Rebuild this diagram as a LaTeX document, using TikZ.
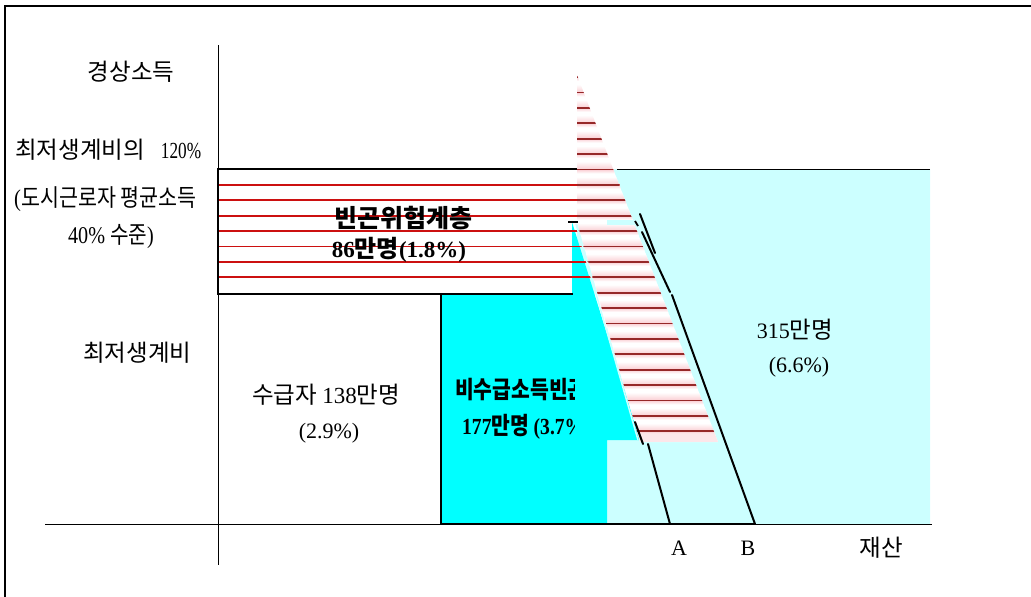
\documentclass[tikz,border=0pt]{standalone}
\usepackage{fontspec}
\setmainfont{Liberation Serif}
\newfontfamily\kr{Noto Sans CJK KR}
\definecolor{lcyan}{HTML}{CCFFFF}
\definecolor{bcyan}{HTML}{00FFFF}
\definecolor{stripe}{RGB}{150,40,40}
\definecolor{rline}{HTML}{CC1010}
\definecolor{spink}{RGB}{250,205,210}
\newcommand{\ksz}{\fontsize{23.5}{26}\selectfont}
\newcommand{\dsz}{\fontsize{22}{26}\selectfont}
\tikzset{
  lbl/.style={inner sep=0pt, align=center, font=\dsz},
  blbl/.style={inner sep=0pt, align=center, font=\fontsize{23}{26}\selectfont\bfseries},
  thickline/.style={line width=2.2pt, black},
  thinline/.style={line width=1pt, black},
  axis/.style={line width=0.9pt, black},
  bound/.style={line width=2pt, black, line cap=round},
}
\begin{document}
\begin{tikzpicture}[x=1pt,y=-1pt]
\useasboundingbox (0,0) rectangle (1031,597);
% frame
\draw[line width=2.2pt] (5,597) -- (5,6) -- (1031,6);
% light cyan region
\fill[lcyan] (577,169) -- (930,169) -- (930,524) -- (607,524) -- (607,294) -- (577,294) -- cycle;
% bright cyan region
\fill[bcyan] (441,294) -- (572,294) -- (572,222) -- (640,440) -- (607,440) -- (607,524) -- (441,524) -- cycle;
% hatched rectangle lines
\foreach \k in {7,...,13}{
  \draw[rline, line width=1.8pt] (219,{77+15.4*\k}) -- (620,{77+15.4*\k});
}
% borders of hatched rect and cyan box
\draw[thickline] (218,169) -- (577,169);
\draw[thickline] (218,168) -- (218,295);
\draw[thickline] (218,294) -- (573,294);
\draw[thickline] (441,293) -- (441,525);
\draw[thickline] (440,524) -- (755,524);
% striped triangle
\begin{scope}
  \clip (577,75) -- (718,442) -- (640,442) -- (577,222) -- cycle;
  \fill[white] (570,70) rectangle (730,445);
  \foreach \k in {0,...,23}{
    \shade[top color=white, bottom color=spink] (570,{77+15.4*\k-8}) rectangle (730,{77+15.4*\k});
    \shade[top color=spink, bottom color=white] (570,{77+15.4*\k}) rectangle (730,{77+15.4*\k+4});
    \draw[stripe, line width=1.8pt] (570,{77+15.4*\k}) -- (730,{77+15.4*\k});
  }
  \fill[spink!50] (570,434) rectangle (730,442);
\end{scope}
\draw[lcyan, line width=1.5pt] (576,224) -- (638,440);
% light cyan bar and small marks
\fill[lcyan] (607,220) rectangle (636,225);
\draw[line width=2pt] (568,222) -- (578,222);
\draw[line width=1.8pt] (635,221) -- (638,226);
% top thin line of income band
\draw[thinline] (617,169) -- (930,169);
% boundary lines A and B
\coordinate (a1) at (635,422); \coordinate (a2) at (643,444);
\coordinate (a3) at (648,444); \coordinate (A0) at (670,524);
\draw[bound] (a1) -- (a2);
\draw[bound] (a3) -- (A0);
\coordinate (b1) at (640,214); \coordinate (b2) at (655,253);
\coordinate (b3) at (642,232); \coordinate (b4) at (670,292);
\coordinate (b5) at (672,295); \coordinate (B0) at (755,524);
\draw[bound] (b1) -- (b2);
\draw[bound] (b3) -- (b4);
\draw[bound] (b5) -- (B0);
% axes
\draw[axis] (218,45) -- (218,565);
\draw[axis] (45,524) -- (932,524);
% left labels
\node[lbl] (inc) at (131,72) {\kr\ksz 경상소득};
\node[lbl, anchor=west] (l120) at (15,150) {\kr\ksz 최저생계비의\hspace{16pt}\scalebox{0.75}[1]{\normalfont\fontsize{23}{26}\selectfont 120\%}};
\node[lbl, anchor=west] (lcity) at (14,199) {\scalebox{0.86}[1]{\fontsize{24}{26}\selectfont (\kr 도시근로자 평균소득}};
\node[lbl] (l40) at (111,237) {\scalebox{0.84}[1]{\fontsize{24}{26}\selectfont 40\% \kr 수준\normalfont)}};
\node[lbl, anchor=west] (lmin) at (83,353) {\kr\ksz 최저생계비};
% region labels
\node[blbl] (risk) at (403,218) {\kr\fontsize{25}{28}\selectfont\bfseries 빈곤위험계층};
\node[blbl] (risk2) at (399,250) {86\kr\fontsize{24}{28}\selectfont\bfseries 만명\normalfont\fontsize{23}{26}\selectfont\bfseries (1.8\%)};
\node[lbl, anchor=west] (recv) at (252,395) {\kr\ksz 수급자\ \normalfont\fontsize{23}{26}\selectfont 138\kr\ksz 만명};
\node[lbl] (recv2) at (329,433) {(2.9\%)};
\begin{scope}
  \clip (445,360) rectangle (574,450);
  \node[blbl, anchor=west] (nonrecv) at (455,390) {\scalebox{0.85}[1]{\kr\fontsize{24}{26}\selectfont\bfseries 비수급소득빈곤}};
  \node[blbl, anchor=west] (nonrecv2) at (462,427) {\scalebox{0.85}[1]{177\kr\fontsize{24}{26}\selectfont\bfseries 만명\ \normalfont\fontsize{23}{26}\selectfont\bfseries (3.7\%)}};
\end{scope}
\node[lbl] (rich) at (795,330) {315\kr\ksz 만명};
\node[lbl] (rich2) at (799,367) {(6.6\%)};
% axis labels
\node[lbl] (labA) at (679,548) {A};
\node[lbl] (labB) at (748,548) {B};
\node[lbl] (asset) at (881,548) {\kr\ksz 재산};
\end{tikzpicture}
\end{document}
